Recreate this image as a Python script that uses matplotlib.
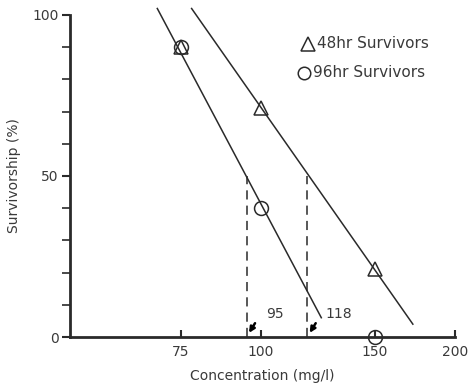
import matplotlib
matplotlib.use("Agg")
import matplotlib.pyplot as plt
from matplotlib.ticker import FixedLocator, NullLocator, FixedFormatter

# datos
conc_48 = [75, 100, 150]
surv_48 = [90, 71, 21]
conc_96 = [75, 100, 150]
surv_96 = [90, 40, 0]

# rectas de regresion (extremos)
recta48_x = [78, 172]
recta48_y = [102, 4]
recta96_x = [69, 124]
recta96_y = [102, 6]

# LC50
lc50_96 = 95
lc50_48 = 118

x_ticks = [75, 100, 150, 200]
y_major = [0, 50, 100]
y_minor = [10, 20, 30, 40, 60, 70, 80, 90]

color_linea = '#2a2a2a'
color_texto = '#3a3a3a'
plt.rcParams['font.family'] = ['DejaVu Sans']

fig = plt.figure(figsize=(4.76, 3.83), dpi=100)
ax = fig.add_axes([0.147, 0.120, 0.809, 0.841])

ax.plot(recta96_x, recta96_y, color=color_linea, lw=1.1, clip_on=False)
ax.plot(recta48_x, recta48_y, color=color_linea, lw=1.1, clip_on=False)

ax.plot(conc_48, surv_48, linestyle='none', marker='^', markersize=10,
        markerfacecolor='none', markeredgecolor=color_linea, markeredgewidth=1.1, clip_on=False)
ax.plot(conc_96, surv_96, linestyle='none', marker='o', markersize=10,
        markerfacecolor='none', markeredgecolor=color_linea, markeredgewidth=1.1, clip_on=False)

# lineas verticales discontinuas en LC50
for v in [lc50_96, lc50_48]:
    ax.plot([v, v], [0, 50], color=color_linea, lw=1.1, linestyle=(0, (6, 4)))

# flechitas y etiquetas
for v in [lc50_96, lc50_48]:
    ax.annotate('', xy=(v * 1.008, 1.3), xytext=(v * 1.03, 4.3),
                arrowprops=dict(arrowstyle='-|>', color='black', lw=1.8,
                                mutation_scale=8, shrinkA=0, shrinkB=0))
    ax.text(v * 1.07 if v < 100 else v * 1.065, 5.0, str(v), fontsize=10,
            color=color_texto, ha='left', va='bottom')

ax.set_xscale('log')
ax.set_xlim(50.5, 200)
ax.set_ylim(0, 100)

ax.xaxis.set_major_locator(FixedLocator(x_ticks))
ax.xaxis.set_major_formatter(FixedFormatter([str(t) for t in x_ticks]))
ax.xaxis.set_minor_locator(NullLocator())
ax.yaxis.set_major_locator(FixedLocator(y_major))
ax.yaxis.set_minor_locator(FixedLocator(y_minor))

ax.tick_params(axis='x', direction='in', length=5, width=1.5, colors=color_linea,
               labelcolor=color_texto, labelsize=10, pad=6)
ax.tick_params(axis='y', which='major', direction='out', length=6, width=1.5,
               colors=color_linea, labelcolor=color_texto, labelsize=10, pad=2)
ax.tick_params(axis='y', which='minor', direction='out', length=6, width=1.2, colors=color_linea)

for s in ['top', 'right']:
    ax.spines[s].set_visible(False)
for s in ['left', 'bottom']:
    ax.spines[s].set_linewidth(2)
    ax.spines[s].set_color(color_linea)

ax.set_xlabel('Concentration (mg/l)', fontsize=10, color=color_texto, labelpad=7)
ax.set_ylabel('Survivorship (%)', fontsize=10, color=color_texto, labelpad=8)

# leyenda manual
ax.plot([0.618], [0.91], transform=ax.transAxes, marker='^', markersize=10, linestyle='none',
        markerfacecolor='none', markeredgecolor=color_linea, markeredgewidth=1.1, clip_on=False)
ax.text(0.642, 0.91, '48hr Survivors', transform=ax.transAxes, fontsize=11,
        color=color_texto, va='center', ha='left')
ax.plot([0.607], [0.82], transform=ax.transAxes, marker='o', markersize=9, linestyle='none',
        markerfacecolor='none', markeredgecolor=color_linea, markeredgewidth=1.1, clip_on=False)
ax.text(0.63, 0.82, '96hr Survivors', transform=ax.transAxes, fontsize=11,
        color=color_texto, va='center', ha='left')

fig.savefig('out.png', dpi=100)
